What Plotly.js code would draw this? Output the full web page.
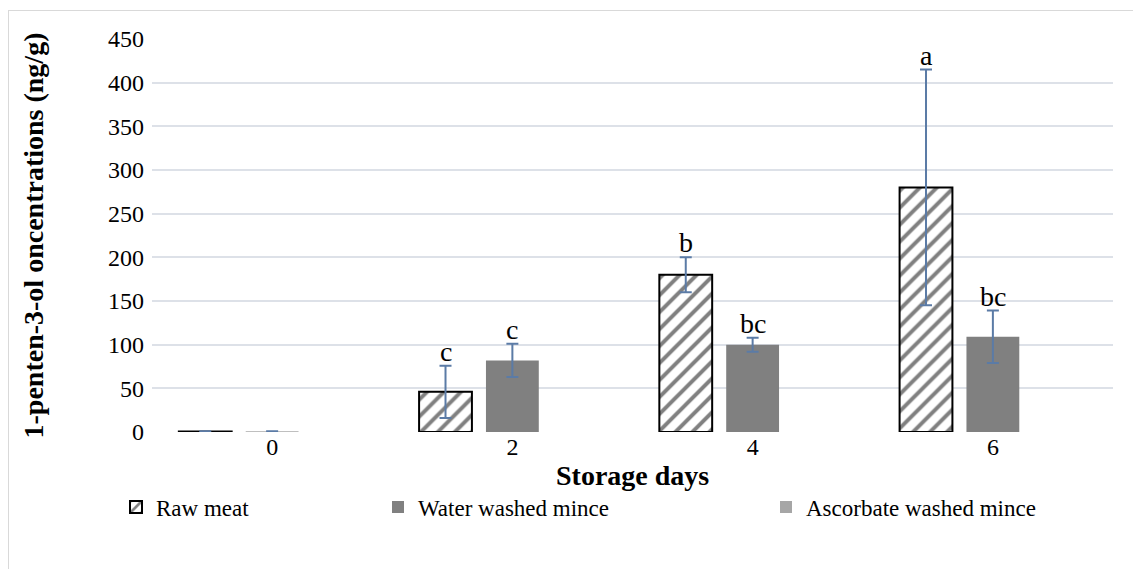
<!DOCTYPE html>
<html><head><meta charset="utf-8">
<script src="https://cdn.plot.ly/plotly-3.0.1.min.js"></script>
<style>
html,body{margin:0;padding:0;background:#fff;overflow:hidden;}
#chart{width:1133px;height:569px;position:absolute;left:0;top:0;}
#frame{position:absolute;left:8px;top:10px;width:1140px;height:580px;border:1px solid #d9d9d9;pointer-events:none;}
</style>
</head><body><div id="chart"></div><div id="frame"></div>
<script>
const days = ['0', '2', '4', '6'];
const rawMeat = [0.5, 46, 180, 280];
const rawMeatErr = [0.5, 30, 20, 135];
const waterWashed = [0.5, 82, 100, 109];
const waterWashedErr = [0.5, 19, 8, 30];
const ascorbateWashed = [0, 0, 0, 0];
const rawMeatLetters = ['', 'c', 'b', 'a'];
const waterWashedLetters = ['', 'c', 'bc', 'bc'];
const yTicks = [0, 50, 100, 150, 200, 250, 300, 350, 400, 450];

const FONT = 'Liberation Serif, Times New Roman, serif';
const W = 1133, H = 569;
const M = {l: 152, r: 20, t: 39, b: 137, autoexpand: false};
const BARGAP = 0.165, GROUPGAP = 0.21;
const plotW = W - M.l - M.r, plotH = H - M.t - M.b;
const slot = plotW / days.length * (1 - BARGAP) / 3;

const errStyle = {type: 'data', visible: true, color: '#5b7ba6', thickness: 2, width: 6};

const traces = [
  {type: 'bar', name: 'Raw meat', x: days, y: rawMeat, legend: 'legend',
   error_y: Object.assign({array: rawMeatErr}, errStyle),
   marker: {color: '#ffffff', line: {color: '#000000', width: 2},
            pattern: {shape: '/', fgcolor: '#808080', bgcolor: '#ffffff', size: 12, solidity: 0.33}}},
  {type: 'bar', name: 'Water washed mince', x: days, y: waterWashed, legend: 'legend2',
   error_y: Object.assign({array: waterWashedErr}, errStyle),
   marker: {color: '#808080'}},
  {type: 'bar', name: 'Ascorbate washed mince', x: days, y: ascorbateWashed, legend: 'legend3',
   error_y: {visible: false},
   marker: {color: '#a6a6a6'}}
];

const annotations = [];
function addLetters(letters, vals, errs, shift) {
  letters.forEach((t, i) => {
    if (!t) return;
    annotations.push({x: i, y: vals[i] + errs[i], xref: 'x', yref: 'y', text: t,
      showarrow: false, xshift: shift, yanchor: 'bottom', yshift: -3,
      font: {family: FONT, size: 28, color: '#000'}});
  });
}
addLetters(rawMeatLetters, rawMeat, rawMeatErr, -slot);
addLetters(waterWashedLetters, waterWashed, waterWashedErr, 0);

// axis titles as annotations
annotations.push({xref: 'paper', yref: 'paper', x: 0.5, y: -(476 - (M.t + plotH)) / plotH,
  xanchor: 'center', yanchor: 'middle', showarrow: false, text: '<b>Storage days</b>',
  font: {family: FONT, size: 28, color: '#000'}});
annotations.push({xref: 'paper', yref: 'paper', x: (33 - M.l) / plotW, y: 0.5,
  xanchor: 'center', yanchor: 'middle', showarrow: false, textangle: -90,
  text: '<b>1-penten-3-ol oncentrations (ng/g)</b>',
  font: {family: FONT, size: 28, color: '#000'}});

function legendAt(px) {
  return {orientation: 'h', x: (px - M.l) / plotW, xanchor: 'left',
          y: -(507 - (M.t + plotH)) / plotH, yanchor: 'middle',
          bgcolor: 'rgba(0,0,0,0)', font: {family: FONT, size: 23, color: '#000'},
          itemwidth: 30};
}

const layout = {
  width: W, height: H,
  margin: M,
  paper_bgcolor: '#ffffff', plot_bgcolor: '#ffffff',
  font: {family: FONT, size: 24, color: '#000'},
  barmode: 'group', bargap: BARGAP, bargroupgap: GROUPGAP,
  showlegend: true,
  legend: legendAt(116),
  legend2: legendAt(378),
  legend3: legendAt(766),
  xaxis: {type: 'category', range: [-0.5, 3.5], showgrid: false, zeroline: false, showline: false, ticks: '',
          tickfont: {family: FONT, size: 24, color: '#000'}, ticklabelstandoff: -2, automargin: false},
  yaxis: {range: [0, 450], tickvals: yTicks, ticktext: yTicks.map(String),
          showgrid: true, gridcolor: '#dde1e8', gridwidth: 2, zeroline: false, showline: false,
          ticks: '', ticklabelstandoff: 7, tickfont: {family: FONT, size: 24, color: '#000'}, automargin: false},
  annotations: annotations
};

Plotly.newPlot('chart', traces, layout, {displayModeBar: false, staticPlot: true});
</script>
</body></html>
